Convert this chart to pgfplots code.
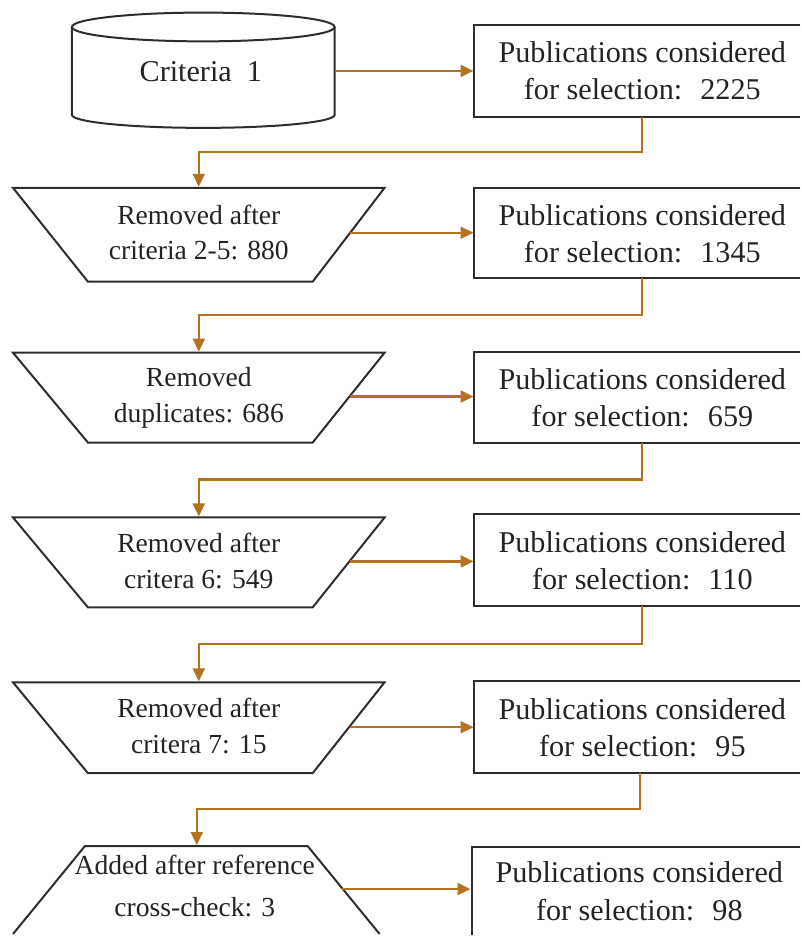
\documentclass[border=0pt]{standalone}
\usepackage{fontspec}
\setmainfont{Liberation Serif}
\usepackage{pgfplots}
\pgfplotsset{compat=1.18}
\usetikzlibrary{arrows.meta}
\definecolor{arr}{RGB}{178,114,32}
\definecolor{txt}{RGB}{35,35,35}
\definecolor{edge}{RGB}{45,45,45}
\begin{document}
\begin{tikzpicture}
\begin{axis}[scale only axis, width=400.5pt, height=468pt,
  xmin=0, xmax=801, ymin=0, ymax=936, y dir=reverse, hide axis, clip=false]
\path (rel axis cs:0,0) rectangle (rel axis cs:1,1);
% ---------- cylinder ----------
\draw[edge, line width=1pt, fill=white] (axis cs:72,27) -- (axis cs:72,115)
  arc[start angle=180, end angle=360, x radius=65.75pt, y radius=6.5pt] -- (axis cs:335,27);
\draw[edge, line width=1pt, fill=white] (axis cs:203.5,27) ellipse [x radius=65.75pt, y radius=7.2pt];
% ---------- boxes (cut at right edge) ----------
\addplot[edge, line width=1pt, line join=miter] coordinates {(801,25)(475,25)(475,117)(801,117)};
\addplot[edge, line width=1pt, line join=miter] coordinates {(801,188)(475,188)(475,278)(801,278)};
\addplot[edge, line width=1pt, line join=miter] coordinates {(801,352)(475,352)(475,443)(801,443)};
\addplot[edge, line width=1pt, line join=miter] coordinates {(801,515)(475,515)(475,607)(801,607)};
\addplot[edge, line width=1pt, line join=miter] coordinates {(801,682)(475,682)(475,774)(801,774)};
\addplot[edge, line width=1pt, line join=miter] coordinates {(801,848)(472,848)(472,936)};
% ---------- trapezoids ----------
\addplot[edge, line width=1pt, line join=miter] coordinates {(13,188)(385,188)(313,282)(88,282)} -- cycle;
\addplot[edge, line width=1pt, line join=miter] coordinates {(13,353)(385,353)(313,443)(88,443)} -- cycle;
\addplot[edge, line width=1pt, line join=miter] coordinates {(13,518)(385,518)(313,608)(88,608)} -- cycle;
\addplot[edge, line width=1pt, line join=miter] coordinates {(13,683)(385,683)(313,774)(88,774)} -- cycle;
\addplot[edge, line width=1pt, line join=miter] coordinates {(13,935)(85,847)(308,847)(380,935)};
% ---------- horizontal arrows ----------
\addplot[arr, line width=1.1pt, -{Triangle[length=6.5pt,width=6pt]}] coordinates {(336,71)(474,71)};
\addplot[arr, line width=1.1pt, -{Triangle[length=6.5pt,width=6pt]}] coordinates {(350,233)(474,233)};
\addplot[arr, line width=1.1pt, -{Triangle[length=6.5pt,width=6pt]}] coordinates {(350,397)(474,397)};
\addplot[arr, line width=1.1pt, -{Triangle[length=6.5pt,width=6pt]}] coordinates {(350,562)(474,562)};
\addplot[arr, line width=1.1pt, -{Triangle[length=6.5pt,width=6pt]}] coordinates {(350,728)(474,728)};
\addplot[arr, line width=1.1pt, -{Triangle[length=6.5pt,width=6pt]}] coordinates {(342,890)(471,890)};
% ---------- connectors ----------
\addplot[arr, line width=1.1pt, line join=miter, -{Triangle[length=6.5pt,width=6pt]}] coordinates {(643,117)(643,152)(199,152)(199,187)};
\addplot[arr, line width=1.1pt, line join=miter, -{Triangle[length=6.5pt,width=6pt]}] coordinates {(643,278)(643,315)(199,315)(199,352)};
\addplot[arr, line width=1.1pt, line join=miter, -{Triangle[length=6.5pt,width=6pt]}] coordinates {(643,443)(643,480)(199,480)(199,517)};
\addplot[arr, line width=1.1pt, line join=miter, -{Triangle[length=6.5pt,width=6pt]}] coordinates {(643,607)(643,645)(199,645)(199,682)};
\addplot[arr, line width=1.1pt, line join=miter, -{Triangle[length=6.5pt,width=6pt]}] coordinates {(641,774)(641,810)(197,810)(197,846)};
% ---------- texts ----------
\tikzset{bt/.style={anchor=base, inner sep=0pt, text=txt, font=\fontsize{15.1}{18}\selectfont},
         tt/.style={anchor=base, inner sep=0pt, text=txt, font=\fontsize{13.8}{17}\selectfont}}
\node[bt] at (axis cs:201,82) {Criteria\hspace{0.5em}1};
% boxes
\node[bt] at (axis cs:643,63) {Publications considered};
\node[bt] at (axis cs:643,100) {for selection:\hspace{0.6em}2225};
\node[bt] at (axis cs:643,226) {Publications considered};
\node[bt] at (axis cs:643,263) {for selection:\hspace{0.6em}1345};
\node[bt] at (axis cs:643,390) {Publications considered};
\node[bt] at (axis cs:643,427) {for selection:\hspace{0.6em}659};
\node[bt] at (axis cs:643,553) {Publications considered};
\node[bt] at (axis cs:643,590) {for selection:\hspace{0.6em}110};
\node[bt] at (axis cs:643,720) {Publications considered};
\node[bt] at (axis cs:643,757) {for selection:\hspace{0.6em}95};
\node[bt] at (axis cs:640,883) {Publications considered};
\node[bt] at (axis cs:640,921) {for selection:\hspace{0.6em}98};
% trapezoids
\node[tt] at (axis cs:199,225) {Removed after};
\node[tt] at (axis cs:199,260) {criteria 2-5: 880};
\node[tt] at (axis cs:199,387) {Removed};
\node[tt] at (axis cs:199,423) {duplicates: 686};
\node[tt] at (axis cs:199,553) {Removed after};
\node[tt] at (axis cs:199,589) {critera 6: 549};
\node[tt] at (axis cs:199,718) {Removed after};
\node[tt] at (axis cs:199,754) {critera 7: 15};
\node[tt] at (axis cs:195,875) {Added after reference};
\node[tt] at (axis cs:195,917) {cross-check: 3};
\end{axis}
\end{tikzpicture}
\end{document}
